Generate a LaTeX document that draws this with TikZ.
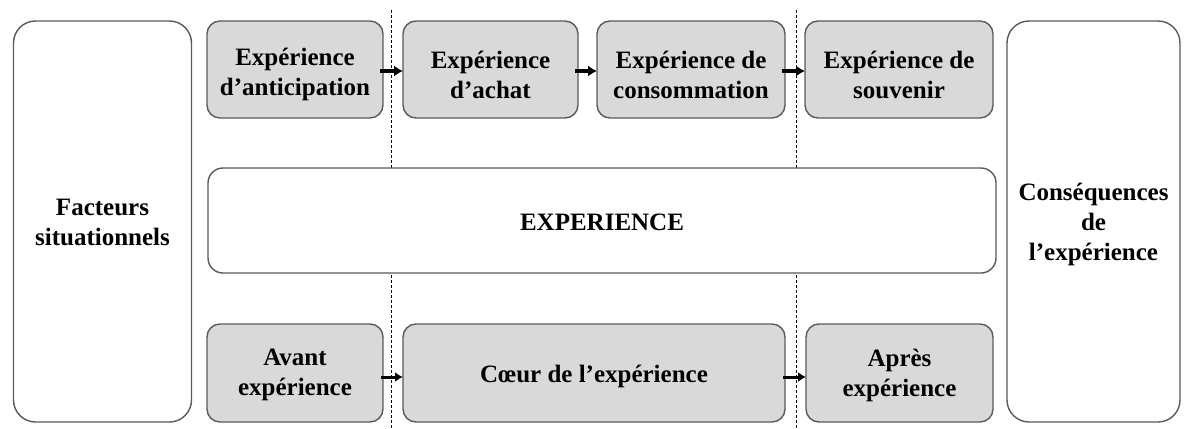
\documentclass[tikz,border=0pt]{standalone}
\usepackage{fontspec}
\setmainfont{Liberation Serif}
\usetikzlibrary{arrows.meta}
\definecolor{boxfill}{HTML}{D9D9D9}
\definecolor{boxline}{HTML}{5A5A5A}
\begin{document}
\begin{tikzpicture}[x=1pt,y=-1pt,
  txt/.style={inner sep=0pt, align=center, font=\fontsize{25}{30}\selectfont\bfseries},
  base/.style={draw=boxline, line width=1.4pt, inner sep=0pt, outer sep=0pt},
  graybox/.style={base, fill=boxfill, rounded corners=13pt, minimum height=97pt},
  gtext/.style 2 args={label={[txt, yshift=#1]center:#2}},
  sidebox/.style={base, fill=white, rounded corners=22pt, minimum width=178pt, minimum height=401pt},
  midbox/.style={base, fill=white, rounded corners=15pt},
  flow/.style={-{Latex[length=9pt,width=11pt]}, line width=4pt, black, shorten <=-3pt},
  flowb/.style={-{Latex[length=8pt,width=10pt]}, line width=3pt, black, shorten <=-2pt},
  sep/.style={black, line width=0.8pt, dash pattern=on 3pt off 2pt}
]
\useasboundingbox (0,0) rectangle (1185,428);
% separators
\coordinate (s1t) at (391,10); \coordinate (s1b) at (391,428);
\coordinate (s2t) at (796,10); \coordinate (s2b) at (796,428);
\draw[sep] (s1t) -- (s1b);
\draw[sep] (s2t) -- (s2b);
% side boxes
\node[sidebox, gtext={-1pt}{Facteurs\\situationnels}] (fact) at (102.5,221.5) {};
\node[sidebox, minimum width=173pt, gtext={-3pt}{Conséquences\\de\\l’expérience}] (cons) at (1093.5,221.5) {};
% middle
\node[midbox, minimum width=788pt, minimum height=105pt, gtext={-2pt}{EXPERIENCE}] (exp) at (602,220.5) {};
% top row
\node[graybox, minimum width=176pt, gtext={-5pt}{Expérience\\d’anticipation}] (ant) at (295,69.5) {};
\node[graybox, minimum width=175pt, gtext={-5pt}{Expérience\\d’achat}] (ach) at (490.5,69.5) {};
\node[graybox, minimum width=188pt, gtext={-5pt}{Expérience de\\consommation}] (con) at (691,69.5) {};
\node[graybox, minimum width=188pt, gtext={-5pt}{Expérience de\\souvenir}] (sou) at (899,69.5) {};
% bottom row
\node[graybox, minimum width=176pt, minimum height=98pt, gtext={-2pt}{Avant\\expérience}] (av) at (295,373) {};
\node[graybox, minimum width=382pt, minimum height=98pt, gtext={-3pt}{Cœur de l’expérience}] (coe) at (594,373) {};
\node[graybox, minimum width=187pt, minimum height=98pt, gtext={-2pt}{Après\\expérience}] (ap) at (899.5,373) {};
% arrows
\draw[flow] ([yshift=-1.5pt]ant.east) -- ([yshift=-1.5pt]ach.west);
\draw[flow] ([yshift=-1.5pt]ach.east) -- ([yshift=-1.5pt]con.west);
\draw[flow] ([yshift=-1.5pt]con.east) -- ([yshift=-1.5pt]sou.west);
\draw[flowb] ([yshift=-4pt]av.east) -- ([yshift=-4pt]coe.west);
\draw[flowb] ([yshift=-4pt]coe.east) -- ([yshift=-4pt]ap.west);
\end{tikzpicture}
\end{document}
